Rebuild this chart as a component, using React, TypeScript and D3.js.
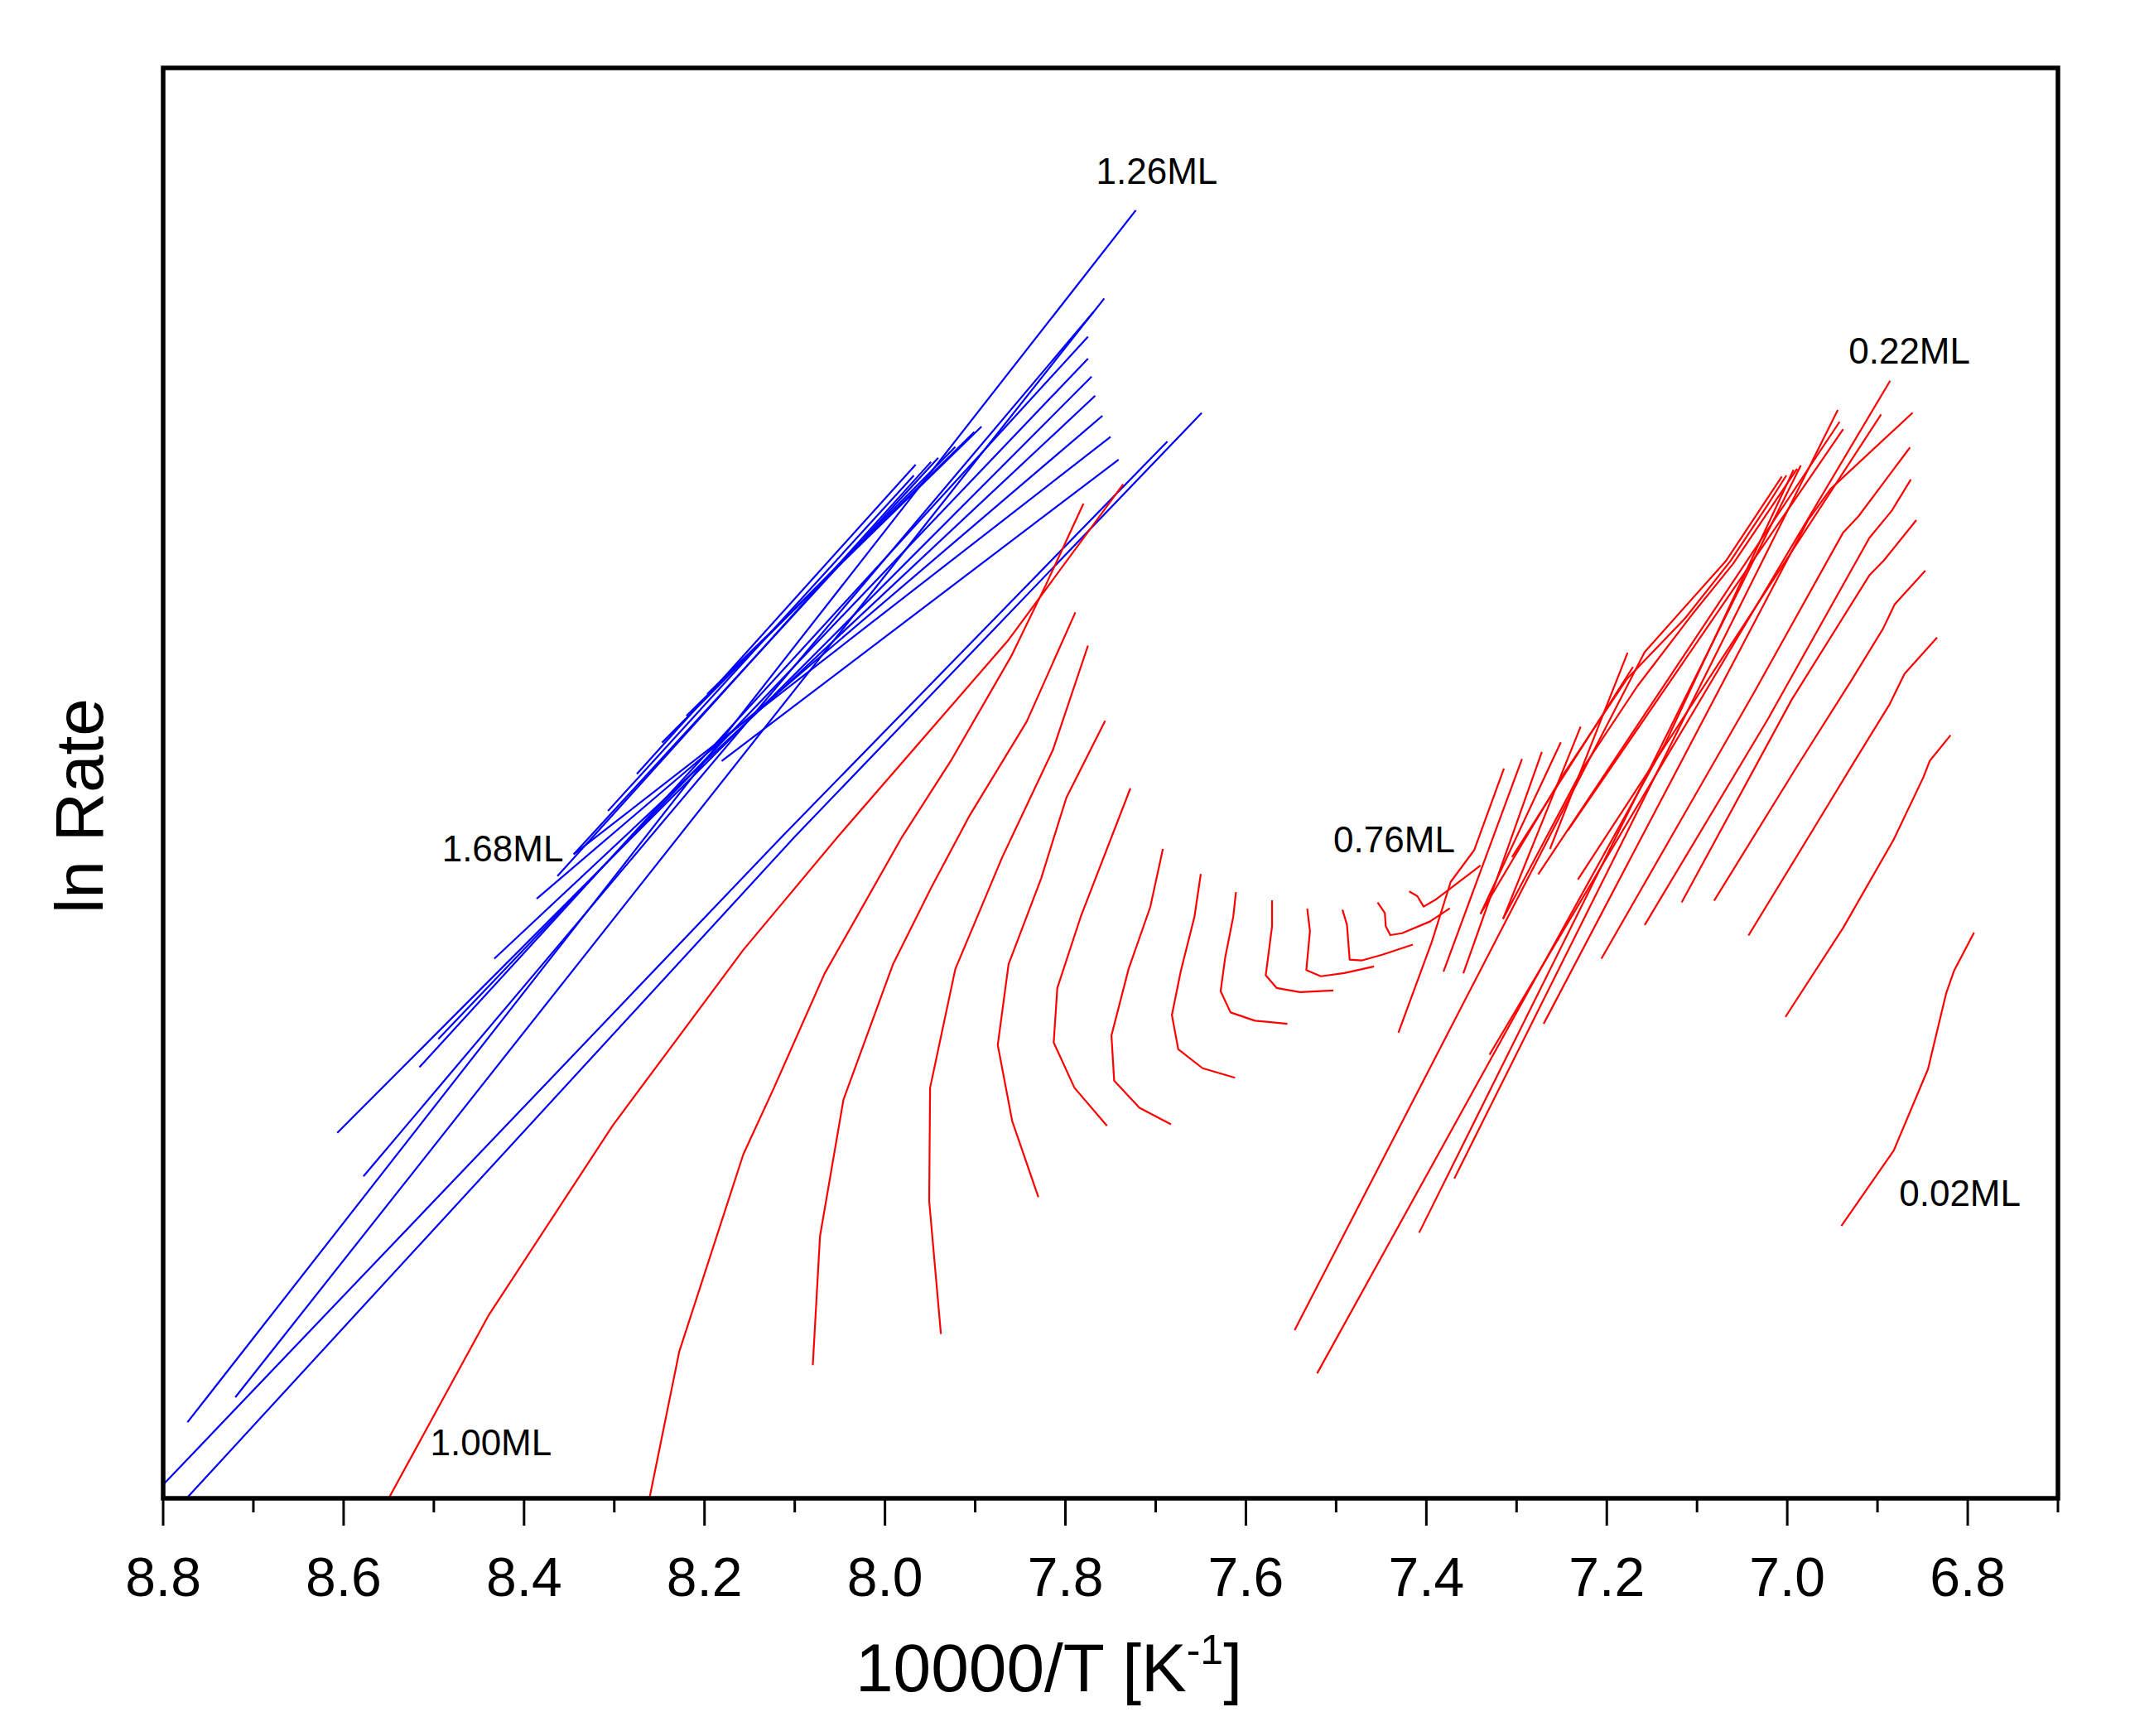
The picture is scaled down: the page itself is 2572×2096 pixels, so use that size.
import React from 'react';
import * as d3 from 'd3';

type P = [number, number];

// x: 10000/T [K^-1], y: ln Rate (arbitrary units, no ticks in original)
const xMajorTicks = [8.8, 8.6, 8.4, 8.2, 8.0, 7.8, 7.6, 7.4, 7.2, 7.0, 6.8];
const xMinorTicks = [8.7, 8.5, 8.3, 8.1, 7.9, 7.7, 7.5, 7.3, 7.1, 6.9, 6.7];

const blueFan: P[][] = [
  [[8.773, 0.56], [7.722, 9.482]],
  [[8.720, 0.744], [7.757, 8.833]],
  [[8.578, 2.37], [7.769, 8.733]],
  [[8.516, 3.173], [7.775, 8.551]],
  [[8.495, 3.381], [7.775, 8.39]],
  [[8.607, 2.69], [7.771, 8.257]],
  [[8.433, 3.972], [7.767, 8.117]],
  [[8.386, 4.414], [7.759, 7.969]],
  [[8.345, 4.741], [7.750, 7.814]],
  [[8.181, 5.427], [7.741, 7.647]],
];

const blueLong: P[][] = [
  [[8.800, 0.10], [8.114, 4.872], [7.687, 7.78]],
  [[8.774, 0.0], [8.100, 4.87], [7.649, 7.99]],
];

const blueUpper: P[][] = [
  [[8.307, 5.06], [7.968, 7.53]],
  [[8.275, 5.332], [7.966, 7.61]],
  [[8.247, 5.563], [7.922, 7.74]],
  [[8.220, 5.76], [7.901, 7.85]],
  [[8.197, 5.92], [7.893, 7.89]],
  [[8.345, 4.741], [7.941, 7.66]],
  [[8.363, 4.58], [7.949, 7.63]],
];

const redCurved: P[][] = [
  [[8.550, 0.0], [8.439, 1.35], [8.302, 2.742], [8.157, 4.037], [8.052, 4.872], [7.863, 6.32], [7.736, 7.465]],
  [[8.261, 0.0], [8.228, 1.08], [8.157, 2.532], [8.123, 3.022], [8.067, 3.862], [7.981, 4.87], [7.926, 5.44], [7.860, 6.2], [7.822, 6.72], [7.780, 7.323]],
  [[8.080, 0.98], [8.072, 1.93], [8.046, 2.935], [7.991, 3.933], [7.949, 4.492], [7.907, 5.017], [7.843, 5.717], [7.789, 6.522]],
  [[7.938, 1.21], [7.951, 2.189], [7.950, 3.022], [7.922, 3.897], [7.870, 4.72], [7.814, 5.507], [7.775, 6.277]],
  [[7.830, 2.217], [7.859, 2.777], [7.875, 3.337], [7.863, 3.932], [7.827, 4.562], [7.799, 5.157], [7.756, 5.724]],
  [[7.754, 2.742], [7.790, 3.022], [7.813, 3.355], [7.809, 3.757], [7.783, 4.282], [7.728, 5.227]],
  [[7.683, 2.753], [7.718, 2.875], [7.746, 3.074], [7.749, 3.407], [7.730, 3.897], [7.706, 4.352], [7.692, 4.78]],
  [[7.612, 3.096], [7.648, 3.166], [7.675, 3.306], [7.682, 3.558], [7.672, 3.885], [7.657, 4.281], [7.650, 4.596]],
  [[7.554, 3.493], [7.590, 3.516], [7.617, 3.577], [7.628, 3.733], [7.623, 3.978], [7.614, 4.281], [7.611, 4.463]],
  [[7.503, 3.738], [7.540, 3.726], [7.566, 3.757], [7.578, 3.85], [7.571, 4.211], [7.571, 4.403]],
  [[7.458, 3.915], [7.491, 3.866], [7.517, 3.843], [7.533, 3.889], [7.529, 4.176], [7.532, 4.34]],
  [[7.415, 4.076], [7.449, 4.001], [7.472, 3.959], [7.485, 3.966], [7.488, 4.223], [7.493, 4.333]],
  [[7.374, 4.344], [7.396, 4.246], [7.427, 4.16], [7.440, 4.146], [7.445, 4.211], [7.446, 4.309], [7.454, 4.386]],
  [[7.340, 4.659], [7.389, 4.41], [7.403, 4.356], [7.410, 4.433], [7.419, 4.468]],
];

const redKinked: P[][] = [
  [[6.940, 2.005], [6.882, 2.56], [6.844, 3.16], [6.824, 3.715], [6.815, 3.886], [6.793, 4.164]],
  [[7.002, 3.544], [6.938, 4.2], [6.882, 4.85], [6.849, 5.31], [6.842, 5.43], [6.819, 5.618]],
  [[7.043, 4.143], [6.968, 4.96], [6.926, 5.42], [6.887, 5.84], [6.870, 6.07], [6.834, 6.337]],
  [[7.081, 4.40], [6.989, 5.39], [6.929, 6.02], [6.894, 6.40], [6.881, 6.58], [6.847, 6.829]],
  [[7.117, 4.387], [6.995, 5.88], [6.909, 6.795], [6.893, 6.904], [6.857, 7.201]],
  [[7.158, 4.22], [7.022, 5.73], [6.909, 7.07], [6.884, 7.272], [6.863, 7.50]],
  [[7.206, 3.972], [7.037, 5.93], [6.938, 7.11], [6.921, 7.23], [6.864, 7.736]],
  [[7.270, 3.493], [6.977, 7.20], [6.952, 7.43], [6.861, 7.992]],
];

const redStraight: P[][] = [
  [[7.330, 3.266], [6.886, 8.227]],
  [[7.232, 4.556], [6.896, 7.979]],
  [[7.369, 2.354], [6.944, 8.012]],
  [[7.408, 1.955], [6.985, 7.604]],
  [[7.546, 1.238], [7.158, 6.23], [7.068, 6.90], [7.006, 7.522]],
  [[7.521, 0.92], [7.135, 5.56], [6.993, 7.571]],
  [[7.243, 4.918], [6.938, 7.871]],
  [[7.276, 4.594], [6.942, 7.925]],
  [[7.340, 4.302], [7.248, 5.33], [7.178, 6.03], [7.113, 6.48], [7.063, 6.90], [7.022, 7.31], [7.001, 7.53]],
  [[7.315, 4.265], [7.226, 5.38], [7.166, 5.98], [7.105, 6.51], [7.060, 6.88], [6.989, 7.58]],
];

const redShort: P[][] = [
  [[7.431, 3.428], [7.394, 4.095], [7.373, 4.538], [7.347, 4.771], [7.314, 5.372]],
  [[7.381, 3.877], [7.294, 5.443]],
  [[7.359, 3.865], [7.272, 5.494]],
  [[7.340, 4.302], [7.251, 5.565]],
  [[7.315, 4.265], [7.229, 5.68]],
  [[7.263, 4.78], [7.177, 6.224]],
  [[7.305, 4.72], [7.171, 6.12]],
];

const coverageLabels = ['1.26ML', '0.22ML', '1.68ML', '0.76ML', '0.02ML', '1.00ML'];
const labelX = [7.766, 6.932, 8.491, 7.503, 6.876, 8.504];
const labelY = [9.674, 8.356, 4.69, 4.753, 2.155, 0.315];

const W = 2572;
const H = 2096;
const L = 197, R = 2485, T = 82, B = 1809;

export default function App() {
  const x = d3.scaleLinear().domain([8.8, 6.7]).range([L, R]);
  const y = d3.scaleLinear().domain([0, 10.53]).range([B, T]);
  const line = d3.line<P>().x(d => x(d[0])).y(d => y(d[1]));
  const fmt = d3.format('.1f');
  const font = "Arial, 'Liberation Sans', Helvetica, sans-serif";

  const blue = [...blueFan, ...blueLong, ...blueUpper];
  const red = [...redCurved, ...redKinked, ...redStraight, ...redShort];

  return (
    <svg width={W} height={H} style={{ position: 'absolute', left: 0, top: 0, background: '#fff' }} fontFamily={font}>
      <defs>
        <clipPath id="plotArea">
          <rect x={L} y={T} width={R - L} height={B - T} />
        </clipPath>
      </defs>
      <rect x={0} y={0} width={W} height={H} fill="#ffffff" />
      <g clipPath="url(#plotArea)" fill="none" strokeLinejoin="round">
        {blue.map((s, i) => (
          <path key={'b' + i} d={line(s) || ''} stroke="#0000ff" strokeWidth={2.2} />
        ))}
        {red.map((s, i) => (
          <path key={'r' + i} d={line(s) || ''} stroke="#ff0000" strokeWidth={2.2} />
        ))}
      </g>
      <rect x={L} y={T} width={R - L} height={B - T} fill="none" stroke="#000" strokeWidth={5.5} />
      {xMajorTicks.map(t => (
        <line key={'M' + t} x1={x(t)} x2={x(t)} y1={B} y2={B + 33} stroke="#000" strokeWidth={3} />
      ))}
      {xMinorTicks.map(t => (
        <line key={'m' + t} x1={x(t)} x2={x(t)} y1={B} y2={B + 17} stroke="#000" strokeWidth={3} />
      ))}
      {xMajorTicks.map(t => (
        <text key={'t' + t} x={x(t)} y={1927} fontSize={66} textAnchor="middle" fill="#000">{fmt(t)}</text>
      ))}
      {coverageLabels.map((lab, i) => (
        <text key={lab} x={x(labelX[i])} y={y(labelY[i])} fontSize={44} fill="#000">{lab}</text>
      ))}
      <text x={1033} y={2042} fontSize={82} fill="#000">
        10000/T [K<tspan fontSize={50} dy={-33}>-1</tspan><tspan dy={33}>]</tspan>
      </text>
      <text transform="translate(124,973) rotate(-90)" fontSize={82} textAnchor="middle" fill="#000">ln Rate</text>
    </svg>
  );
}
